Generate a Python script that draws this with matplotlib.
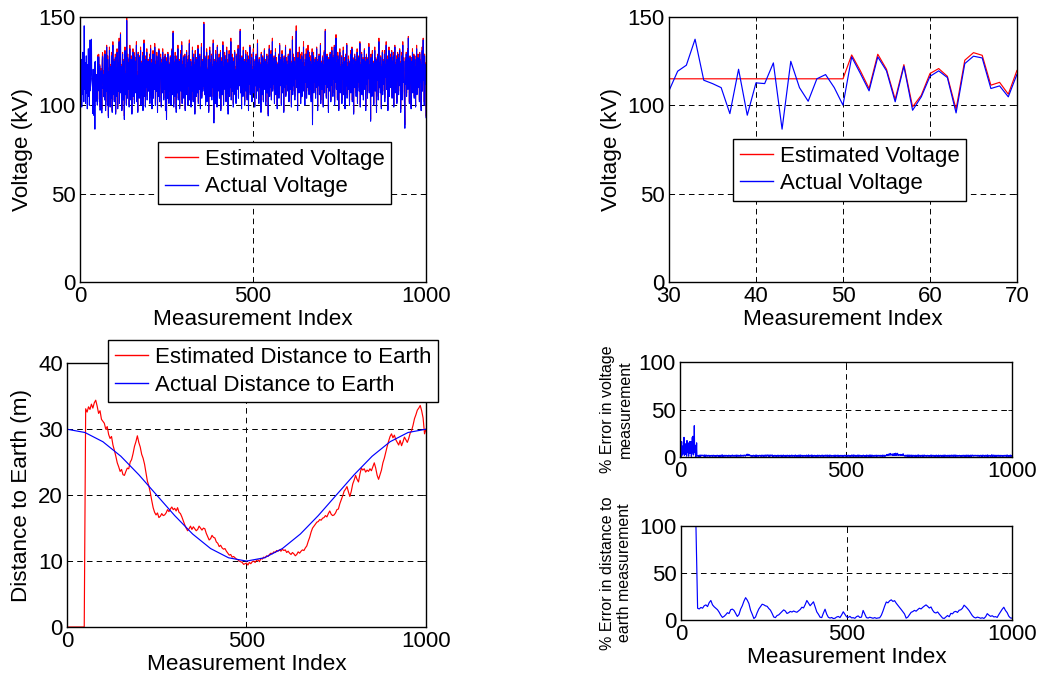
import numpy as np
import matplotlib
matplotlib.use("Agg")
import matplotlib.pyplot as plt

plt.rcParams['font.family'] = ['Liberation Sans', 'DejaVu Sans']
plt.rcParams['font.size'] = 16
plt.rcParams['lines.scale_dashes'] = False

# ---------------------------------------------------------------- data
# Measured line voltage (kV), one value per measurement index 0..1000
volt_actual = [
    108, 121, 104, 115, 126, 99, 117, 111, 130, 106, 119, 102, 145, 113, 109, 124, 101, 118, 128, 107,
    114, 98, 123, 110, 132, 105, 116, 100, 120, 137, 108.2, 119.3, 122.7, 137.4, 114.2, 112.3, 110.0, 95.3, 120.4, 94.4,
    112.7, 112.3, 124.0, 86.5, 124.9, 110.0, 102.3, 115.0, 117.4, 110.0, 100.1, 127.4, 118.0, 108.2, 127.4, 119.5, 102.0, 122.1, 97.2, 104.8,
    116.4, 119.5, 115.7, 95.7, 123.6, 127.8, 126.8, 109.5, 111.0, 104.8, 117.6, 103, 129, 112, 97, 121, 108, 133, 115, 100,
    126, 111, 93, 119, 107, 131, 114, 99, 122, 117, 104, 128, 110, 96, 120, 134, 106, 113, 125, 102,
    118, 109, 127, 95, 115, 121, 105, 130, 112, 98, 124, 116, 108, 136, 101, 119, 126, 140, 107, 114,
    122, 97, 117, 129, 110, 103, 125, 113, 92, 120, 131, 106, 118, 111, 100, 148, 115, 104, 127, 109,
    119, 124, 99, 114, 132, 108, 121, 103, 126, 116, 95, 123, 112, 130, 105, 118, 128, 101, 115, 110,
    125, 107, 120, 134, 102, 117, 111, 96, 129, 113, 122, 104, 127, 119, 109, 131, 100, 116, 124, 106,
    118, 128, 97, 121, 112, 135, 105, 115, 123, 99, 126, 110, 117, 130, 103, 120, 114, 125, 108, 122,
    111, 127, 101, 119, 132, 106, 116, 124, 98, 121, 113, 129, 104, 118, 126, 109, 133, 115, 100, 123,
    117, 108, 128, 112, 96, 125, 119, 105, 131, 114, 102, 122, 116, 127, 110, 99, 124, 118, 107, 130,
    113, 121, 103, 126, 115, 109, 128, 97, 120, 111, 92, 125, 117, 104, 129, 112, 119, 101, 123, 114,
    108, 127, 116, 100, 122, 110, 131, 106, 118, 141, 113, 99, 124, 115, 105, 128, 119, 111, 96, 121,
    126, 107, 117, 132, 103, 120, 114, 125, 98, 122, 112, 129, 108, 118, 134, 101, 116, 123, 110, 127,
    104, 119, 113, 128, 97, 121, 115, 109, 130, 106, 124, 117, 100, 126, 111, 120, 135, 103, 118, 112,
    125, 99, 122, 114, 108, 131, 116, 102, 127, 119, 110, 123, 95, 129, 113, 118, 105, 126, 120, 107,
    115, 132, 101, 124, 117, 109, 128, 112, 98, 121, 116, 133, 104, 119, 125, 108, 122, 111, 146, 114,
    106, 127, 118, 100, 123, 113, 130, 102, 120, 115, 109, 126, 96, 121, 117, 131, 105, 124, 112, 119,
    128, 103, 116, 122, 110, 135, 107, 90, 125, 114, 120, 101, 129, 118, 111, 124, 99, 133, 115, 108,
    121, 113, 127, 104, 119, 116, 130, 97, 123, 110, 125, 106, 118, 134, 112, 100, 122, 117, 128, 109,
    114, 126, 102, 120, 131, 107, 118, 124, 95, 121, 113, 129, 105, 116, 123, 110, 136, 103, 119, 115,
    127, 108, 122, 99, 117, 125, 112, 130, 106, 120, 114, 101, 128, 118, 109, 124, 116, 132, 104, 121,
    111, 126, 119, 142, 107, 123, 115, 98, 127, 113, 120, 105, 131, 117, 110, 125, 100, 122, 116, 129,
    108, 119, 124, 103, 128, 114, 121, 97, 126, 112, 118, 133, 106, 123, 115, 109, 127, 102, 120, 117,
    113, 130, 107, 122, 116, 99, 125, 119, 111, 128, 104, 121, 117, 135, 108, 124, 114, 101, 126, 120,
    110, 123, 118, 96, 129, 112, 120, 106, 127, 115, 102, 124, 119, 131, 109, 116, 125, 100, 121, 113,
    128, 107, 119, 123, 94, 126, 114, 132, 105, 120, 117, 110, 129, 103, 122, 115, 136, 108, 118, 124,
    112, 127, 101, 121, 116, 130, 106, 119, 125, 113, 98, 123, 117, 109, 128, 104, 120, 134, 111, 126,
    115, 122, 100, 118, 129, 107, 124, 113, 120, 96, 127, 110, 121, 116, 133, 105, 119, 125, 112, 117,
    123, 108, 128, 114, 102, 126, 119, 131, 109, 121, 115, 99, 124, 117, 137, 106, 120, 127, 111, 118,
    125, 103, 122, 115, 129, 142, 110, 120, 116, 97, 127, 113, 123, 107, 130, 118, 112, 126, 101, 121,
    117, 128, 105, 124, 119, 111, 133, 108, 122, 115, 100, 126, 120, 113, 129, 104, 118, 124, 110, 131,
    114, 121, 106, 127, 116, 109, 125, 119, 102, 123, 112, 130, 89, 120, 117, 128, 107, 124, 113, 118,
    126, 104, 121, 115, 132, 110, 119, 97, 125, 117, 111, 128, 106, 122, 116, 134, 101, 120, 124, 109,
    118, 127, 113, 99, 123, 116, 130, 107, 121, 142, 112, 125, 104, 119, 128, 110, 117, 122, 96, 126,
    114, 120, 108, 129, 116, 102, 124, 118, 131, 111, 122, 105, 127, 115, 119, 133, 100, 121, 113, 125,
    138, 109, 118, 124, 103, 128, 116, 120, 97, 126, 112, 130, 107, 122, 117, 110, 127, 101, 119, 123,
    115, 131, 106, 121, 114, 125, 98, 120, 128, 111, 117, 134, 104, 122, 116, 109, 126, 119, 113, 100,
    124, 118, 129, 107, 121, 115, 132, 102, 120, 126, 112, 95, 123, 117, 128, 110, 119, 125, 105, 122,
    116, 130, 101, 119, 124, 113, 127, 108, 121, 135, 99, 118, 123, 111, 129, 106, 120, 116, 126, 103,
    122, 114, 131, 109, 117, 125, 97, 121, 128, 112, 119, 104, 126, 115, 120, 133, 107, 123, 110, 118,
    91, 127, 116, 121, 105, 129, 113, 119, 124, 100, 122, 117, 131, 108, 120, 126, 111, 96, 125, 118,
    114, 128, 103, 121, 136, 110, 119, 124, 107, 127, 115, 98, 122, 118, 130, 106, 120, 125, 112, 117,
    129, 102, 123, 116, 119, 134, 109, 121, 126, 113, 97, 124, 118, 131, 105, 120, 115, 127, 110, 122,
    117, 130, 104, 125, 119, 112, 128, 99, 121, 116, 133, 107, 123, 118, 110, 126, 101, 120, 129, 114,
    122, 106, 127, 117, 131, 111, 119, 96, 124, 115, 128, 103, 121, 134, 113, 118, 125, 108, 100, 87,
    120, 126, 112, 129, 105, 122, 117, 131, 109, 138, 116, 124, 101, 119, 127, 113, 121, 98, 125, 118,
    111, 130, 107, 123, 116, 128, 104, 120, 126, 114, 99, 122, 118, 132, 106, 121, 115, 127, 110, 124,
    119, 102, 129, 113, 125, 117, 97, 123, 120, 131, 108, 126, 137, 114, 121, 100, 128, 116, 112, 123,
    93,
]

# Estimated voltage (kV) for indices 0..70: held at the initial guess, then tracking
volt_est_head = [
    115, 115, 115, 115, 115, 115, 115, 115, 115, 115, 115, 115, 115, 115, 115, 115, 115,
    115, 115, 115, 115, 115, 115, 115, 115, 115, 115, 115, 115, 115, 115, 115, 115, 115,
    115, 115, 115, 115, 115, 115, 115, 115, 115, 115, 115, 115, 115, 115, 115, 115, 115,
    128.5, 119.5, 109.5, 128.9, 120.4, 103.4, 123.0, 99.1, 105.7, 118.0,
    120.8, 116.4, 97.8, 125.5, 129.8, 128.3, 111.4, 113.0, 106.3, 119.8,
]

# Estimator offset above the measured voltage (kV) for indices 71..1000
volt_est_bias = [
    1, 2, 1, 2, 1, 2, 1, 1, 2,
    2, 1, 1, 2, 1, 2, 2, 1, 1, 2, 1, 2, 1, 1, 2, 2, 1, 2, 1, 1,
    1, 2, 2, 1, 1, 2, 1, 2, 1, 1, 2, 1, 2, 2, 1, 1, 2, 1, 1, 2,
    1, 1, 2, 1, 2, 2, 1, 1, 2, 1, 2, 1, 1, 2, 1, 2, 2, 1, 2, 1,
    2, 2, 1, 1, 2, 1, 1, 2, 2, 1, 1, 2, 1, 2, 1, 1, 2, 2, 1, 2,
    2, 1, 1, 2, 1, 2, 2, 1, 1, 2, 1, 2, 1, 1, 2, 2, 1, 2, 1, 1,
    1, 2, 2, 1, 2, 2, 1, 2, 2, 1, 2, 2, 1, 2, 2, 2, 2, 1, 2, 2,
    2, 2, 3, 2, 2, 3, 2, 2, 2, 3, 2, 2, 1, 2, 2, 1, 2, 1, 1, 2,
    1, 2, 2, 1, 1, 2, 1, 2, 1, 1, 2, 1, 2, 2, 1, 1, 2, 1, 1, 2,
    2, 2, 1, 1, 2, 1, 1, 2, 2, 1, 1, 2, 1, 2, 1, 1, 2, 2, 1, 2,
    2, 1, 2, 2, 2, 2, 1, 2, 2, 1, 2, 2, 1, 2, 2, 2, 2, 1, 2, 1,
    2, 1, 1, 2, 1, 2, 2, 1, 1, 2, 1, 2, 1, 1, 2, 2, 1, 2, 1, 1,
    1, 2, 2, 1, 1, 2, 1, 2, 1, 1, 2, 1, 2, 2, 1, 1, 2, 1, 1, 2,
    1, 1, 2, 1, 2, 2, 1, 1, 2, 1, 2, 1, 1, 2, 1, 2, 2, 1, 2, 1,
    2, 2, 1, 1, 2, 1, 1, 2, 2, 1, 1, 2, 1, 2, 1, 1, 2, 2, 1, 2,
    2, 1, 1, 2, 1, 2, 2, 1, 1, 2, 1, 2, 1, 1, 2, 2, 1, 2, 1, 1,
    1, 2, 2, 1, 1, 2, 1, 2, 1, 1, 2, 1, 2, 2, 1, 1, 2, 1, 1, 2,
    1, 1, 2, 1, 2, 2, 1, 1, 2, 1, 2, 1, 1, 2, 1, 2, 2, 1, 2, 1,
    2, 2, 1, 1, 2, 1, 1, 2, 2, 1, 1, 2, 1, 2, 1, 1, 2, 2, 1, 2,
    2, 1, 1, 2, 1, 2, 2, 1, 1, 2, 1, 2, 1, 1, 2, 2, 1, 2, 1, 1,
    1, 2, 2, 1, 1, 2, 1, 2, 1, 1, 2, 1, 2, 2, 1, 1, 2, 1, 1, 2,
    1, 1, 2, 1, 2, 2, 1, 1, 2, 1, 2, 1, 1, 2, 1, 2, 2, 1, 2, 1,
    2, 2, 1, 1, 2, 1, 1, 2, 2, 1, 1, 2, 1, 2, 1, 1, 2, 2, 1, 2,
    2, 1, 1, 2, 1, 2, 2, 1, 1, 2, 1, 2, 1, 1, 2, 2, 1, 2, 1, 1,
    1, 2, 2, 1, 1, 2, 1, 2, 1, 1, 2, 1, 2, 2, 1, 1, 2, 1, 1, 2,
    1, 1, 2, 1, 2, 2, 1, 1, 2, 1, 2, 1, 1, 2, 1, 2, 2, 1, 2, 1,
    2, 2, 1, 1, 2, 1, 1, 2, 2, 1, 1, 2, 1, 2, 1, 1, 2, 2, 1, 2,
    2, 1, 1, 2, 1, 2, 2, 1, 1, 2, 1, 2, 1, 1, 2, 2, 1, 2, 1, 1,
    2, 2, 2, 3, 2, 3, 3, 2, 3, 3, 3, 2, 3, 4, 3, 3, 2, 3, 3, 4,
    3, 2, 3, 3, 2, 4, 3, 3, 2, 3, 4, 3, 2, 3, 3, 4, 3, 2, 3, 3,
    3, 3, 2, 3, 2, 3, 3, 2, 2, 3, 2, 2, 3, 2, 2, 2, 1, 2, 2, 1,
    1, 2, 2, 1, 1, 2, 1, 2, 1, 1, 2, 1, 2, 2, 1, 1, 2, 1, 1, 2,
    1, 1, 2, 1, 2, 2, 1, 1, 2, 1, 2, 1, 1, 2, 1, 2, 2, 1, 2, 1,
    2, 2, 1, 1, 2, 1, 1, 2, 2, 1, 1, 2, 1, 2, 1, 1, 2, 2, 1, 2,
    2, 1, 1, 2, 1, 2, 2, 1, 1, 2, 1, 2, 1, 1, 2, 2, 1, 2, 1, 1,
    1, 2, 2, 1, 1, 2, 1, 2, 1, 1, 2, 1, 2, 2, 1, 1, 2, 1, 1, 2,
    1, 1, 2, 1, 2, 2, 1, 1, 2, 1, 2, 1, 1, 2, 1, 2, 2, 1, 2, 1,
    2, 2, 1, 1, 2, 1, 1, 2, 2, 1, 1, 2, 1, 2, 1, 1, 2, 2, 1, 2,
    2, 1, 1, 2, 1, 2, 2, 1, 1, 2, 1, 2, 1, 1, 2, 2, 1, 2, 1, 1,
    1, 2, 2, 1, 1, 2, 1, 2, 1, 1, 2, 1, 2, 2, 1, 1, 2, 1, 1, 2,
    1, 1, 2, 1, 2, 2, 1, 1, 2, 1, 2, 1, 1, 2, 1, 2, 2, 1, 2, 1,
    2, 2, 2, 1, 2, 2, 1, 2, 2, 2, 1, 2, 2, 2, 1, 1, 2, 2, 1, 2,
    2, 1, 1, 2, 1, 2, 2, 1, 1, 2, 1, 2, 1, 1, 2, 2, 1, 2, 1, 1,
    1, 2, 2, 1, 1, 2, 1, 2, 1, 1, 2, 1, 2, 2, 1, 1, 2, 1, 1, 2,
    1, 1, 2, 1, 2, 2, 1, 1, 2, 1, 2, 1, 1, 2, 1, 2, 2, 1, 2, 1,
    2, 2, 1, 1, 2, 1, 1, 2, 2, 1, 1, 2, 1, 2, 1, 1, 2, 2, 1, 2,
    2, 1, 1, 2, 1, 2, 2, 1, 1, 2, 1, 2, 1, 1, 2, 2, 1, 2, 1, 1,
    1,
]

# Distance from conductor to earth (m)
dist_actual_step = 50          # spacing of the actual-distance samples
dist_actual = [30.0, 29.5, 28.1, 25.9, 23.1, 20.0, 16.9, 14.1, 11.9, 10.5, 10.0,
               10.5, 11.9, 14.1, 16.9, 20.0, 23.1, 25.9, 28.1, 29.5, 30.0]

dist_est_step = 4              # spacing of the estimated-distance samples
dist_est = [
    0, 0, 0, 0, 0, 0, 0, 0, 0, 0,
    0, 0, 0, 33.1, 32.6, 33.4, 33.0, 33.8, 33.2, 34.0,
    34.4, 33.5, 32.4, 32.8, 31.5, 31.2, 30.9, 30.0, 30.4, 29.2,
    28.6, 28.9, 27.6, 26.8, 25.9, 24.9, 24.3, 23.6, 23.9, 23.1,
    23.0, 23.6, 24.1, 24.0, 25.0, 25.4, 26.3, 27.4, 28.1, 29.0,
    28.0, 27.3, 26.2, 25.6, 24.7, 23.4, 22.1, 21.4, 20.4, 19.2,
    18.1, 17.4, 17.0, 17.3, 16.6, 16.8, 17.2, 16.9, 17.0, 17.3,
    17.8, 17.5, 17.9, 18.2, 17.8, 18.0, 17.6, 18.1, 17.4, 17.2,
    16.7, 16.1, 15.5, 15.0, 14.6, 14.9, 15.3, 14.8, 15.2, 14.9,
    14.6, 14.8, 15.3, 15.0, 14.7, 15.0, 14.9, 14.2, 13.7, 13.2,
    13.4, 13.9, 13.6, 13.5, 12.9, 12.7, 12.2, 12.4, 12.0, 11.8,
    11.9, 11.5, 11.2, 10.9, 11.0, 10.6, 10.7, 10.5, 10.3, 10.2,
    10.0, 9.9, 9.8, 9.5, 9.6, 9.7, 9.4, 9.8, 9.6, 9.9,
    10.0, 9.8, 10.1, 10.2, 9.9, 10.4, 10.3, 10.6, 10.5, 10.8,
    10.7, 11.0, 11.2, 11.1, 11.4, 11.3, 11.6, 11.5, 11.7, 11.5,
    11.8, 11.6, 11.7, 11.3, 11.5, 11.2, 11.0, 11.3, 11.1, 10.8,
    11.0, 11.4, 11.2, 11.5, 11.7, 11.6, 12.0, 12.3, 13.0, 13.6,
    14.4, 15.0, 15.3, 15.6, 15.9, 16.0, 16.3, 16.2, 16.5, 16.6,
    16.9, 16.7, 17.2, 17.6, 17.1, 16.9, 17.0, 17.3, 17.8, 17.9,
    18.7, 19.3, 19.9, 20.6, 20.9, 21.3, 20.5, 19.8, 20.6, 21.7,
    22.3, 23.0, 22.4, 22.0, 23.2, 24.1, 23.8, 24.0, 23.5, 23.8,
    23.6, 24.0, 23.7, 24.3, 24.9, 24.1, 23.0, 22.4, 23.1, 23.8,
    24.9, 25.6, 26.5, 27.4, 28.2, 28.9, 29.3, 28.7, 29.1, 28.4,
    28.0, 27.6, 28.3, 27.5, 28.1, 28.8, 28.4, 28.0, 28.6, 29.4,
    29.8, 30.6, 31.6, 32.2, 32.9, 33.2, 33.6, 32.8, 31.7, 29.3,
    30.0,
]

dist_err_step = 5              # spacing of the distance-error samples
dist_err_pct = [
    100, 100, 100, 100, 100, 100, 100, 100, 100, 100,
    12.5, 11.8, 13.4, 12.6, 15.2, 16.1, 14.3, 18.5, 20.8, 16.2,
    14.1, 12.6, 11.0, 8.4, 5.2, 2.8, 3.9, 5.6, 7.8, 6.9,
    11.0, 11.6, 10.2, 7.0, 3.8, 5.9, 11.6, 15.2, 20.1, 23.8,
    21.2, 17.5, 10.4, 6.2, 1.6, 3.2, 7.9, 11.8, 14.3, 16.8,
    16.2, 15.1, 14.6, 12.3, 10.5, 7.1, 3.2, 2.6, 4.8, 5.5,
    7.3, 9.1, 10.8, 9.6, 7.0, 7.8, 9.2, 8.5, 9.6, 8.8,
    8.3, 9.7, 11.2, 13.6, 12.9, 16.4, 20.8, 18.1, 15.2, 17.3,
    19.4, 14.2, 8.7, 6.1, 3.0, 2.6, 7.4, 11.5, 6.2, 2.9,
    2.1, 2.7, 1.6, 1.9, 3.2, 3.8, 2.6, 5.4, 8.8, 6.1,
    3.4, 2.8, 3.9, 2.3, 2.5, 1.8, 3.6, 4.4, 2.7, 3.1,
    10.2, 6.4, 2.6, 2.1, 3.0, 2.4, 1.9, 2.6, 1.8, 2.2,
    2.4, 5.1, 9.6, 14.8, 19.2, 18.3, 20.4, 21.5, 19.8, 20.6,
    17.9, 15.6, 13.4, 11.2, 8.8, 6.5, 2.0, 3.1, 5.6, 8.2,
    9.0, 10.3, 9.4, 11.1, 12.6, 11.8, 13.5, 14.9, 16.1, 14.6,
    12.8, 13.9, 10.4, 8.1, 7.5, 8.6, 6.3, 4.2, 2.1, 1.7,
    3.3, 4.8, 3.5, 7.1, 6.6, 8.7, 9.2, 8.1, 10.4, 10.9,
    12.5, 15.8, 14.2, 12.3, 10.1, 7.4, 4.6, 2.9, 2.2, 3.1,
    2.6, 1.9, 2.4, 1.7, 3.5, 6.8, 5.2, 3.9, 4.6, 3.3,
    3.6, 2.8, 5.9, 8.7, 11.4, 13.6, 10.2, 7.9, 4.1, 2.2,
    2.0,
]

# ---------------------------------------------------------------- series
volt_actual = np.asarray(volt_actual, dtype=float)
volt_idx = np.arange(volt_actual.size)
n_head = len(volt_est_head)
volt_est = np.concatenate([np.asarray(volt_est_head, dtype=float),
                           volt_actual[n_head:] + np.asarray(volt_est_bias, dtype=float)])
volt_err_pct = np.abs(volt_est - volt_actual) / volt_actual * 100.0

dist_actual_idx = np.arange(len(dist_actual)) * dist_actual_step
dist_est_idx = np.arange(len(dist_est)) * dist_est_step
dist_err_idx = np.arange(len(dist_err_pct)) * dist_err_step

RED = (1, 0, 0)
BLUE = (0, 0, 1)
LW = 0.85


def style(ax, xlim, ylim, xticks, yticks):
    ax.set_xlim(*xlim)
    ax.set_ylim(*ylim)
    ax.set_xticks(xticks)
    ax.set_yticks(yticks)
    ax.tick_params(direction='in', length=3, width=0.6, top=True, right=True,
                   labelsize=16, pad=3)
    ax.grid(True, color='black', linestyle=(0, (4, 3)), linewidth=0.7)
    ax.set_axisbelow(True)
    for s in ax.spines.values():
        s.set_linewidth(1.0)
        s.set_color('black')


def legend(ax, loc, anchor):
    leg = ax.legend(loc=loc, bbox_to_anchor=anchor, borderaxespad=0,
                    fontsize=16, frameon=True, fancybox=False, framealpha=1,
                    edgecolor='black', handlelength=1.5, handletextpad=0.3,
                    borderpad=0.3, labelspacing=0.3)
    leg.get_frame().set_linewidth(1.0)
    for handle in leg.get_lines():
        handle.set_linewidth(1.0)
    return leg


fig = plt.figure(figsize=(10.42, 6.78), dpi=100)

# --- voltage, full record
ax1 = fig.add_axes([0.0768, 0.584, 0.332, 0.391])
ax1.plot(volt_idx, volt_est, color=RED, lw=0.75, label='Estimated Voltage')
ax1.plot(volt_idx, volt_actual, color=BLUE, lw=0.75, label='Actual Voltage')
style(ax1, (0, 1000), (0, 150), [0, 500, 1000], [0, 50, 100, 150])
ax1.set_xlabel('Measurement Index', fontsize=16.2, labelpad=1)
ax1.set_ylabel('Voltage (kV)', fontsize=16.2, labelpad=4)
legend(ax1, 'upper left', (0.2254, 0.528))

# --- voltage, indices 30..70
ax2 = fig.add_axes([0.642, 0.584, 0.334, 0.391])
ax2.plot(volt_idx, volt_est, color=RED, lw=LW, label='Estimated Voltage')
ax2.plot(volt_idx, volt_actual, color=BLUE, lw=LW, label='Actual Voltage')
style(ax2, (30, 70), (0, 150), [30, 40, 50, 60, 70], [0, 50, 100, 150])
ax2.set_xlabel('Measurement Index', fontsize=16.2, labelpad=1)
ax2.set_ylabel('Voltage (kV)', fontsize=16.2, labelpad=4)
legend(ax2, 'upper left', (0.184, 0.540))

# --- distance to earth
ax3 = fig.add_axes([0.0643, 0.0752, 0.3445, 0.389])
ax3.plot(dist_est_idx, dist_est, color=RED, lw=LW, label='Estimated Distance to Earth')
ax3.plot(dist_actual_idx, dist_actual, color=BLUE, lw=LW, label='Actual Distance to Earth')
style(ax3, (0, 1000), (0, 40), [0, 500, 1000], [0, 10, 20, 30, 40])
ax3.set_xlabel('Measurement Index', fontsize=16.2, labelpad=1)
ax3.set_ylabel('Distance to Earth (m)', fontsize=16.2, labelpad=4)
legend(ax3, 'upper right', (1.033, 1.087))

# --- percentage error in voltage
ax4 = fig.add_axes([0.6526, 0.326, 0.3186, 0.140])
ax4.plot(volt_idx, volt_err_pct, color=BLUE, lw=LW)
style(ax4, (0, 1000), (0, 100), [0, 500, 1000], [0, 50, 100])
ax4.set_ylabel('% Error in voltage\nmeasurement', fontsize=11.5)
ax4.yaxis.set_label_coords(-0.142, 0.5)

# --- percentage error in distance
ax5 = fig.add_axes([0.6536, 0.0855, 0.3177, 0.1386])
ax5.plot(dist_err_idx, dist_err_pct, color=BLUE, lw=LW)
style(ax5, (0, 1000), (0, 100), [0, 500, 1000], [0, 50, 100])
ax5.set_xlabel('Measurement Index', fontsize=16.2, labelpad=1)
ax5.set_ylabel('% Error in distance to\nearth measurement', fontsize=11.5)
ax5.yaxis.set_label_coords(-0.148, 0.5)

fig.savefig('out.png', dpi=100, facecolor='white')
